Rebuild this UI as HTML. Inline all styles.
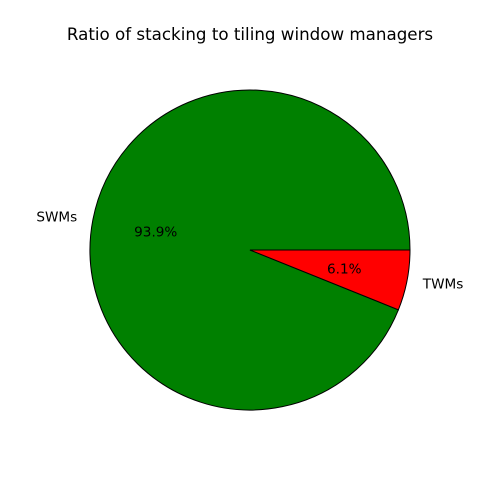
<!DOCTYPE html>
<html><head><meta charset="utf-8"><style>
body{margin:0;background:#fff;}
svg{display:block;font-family:"DejaVu Sans","Liberation Sans",sans-serif;}
</style></head><body>
<svg id="chart" width="500" height="500" viewBox="0 0 500 500">
<rect width="500" height="500" fill="#fff"/>
<text x="250" y="40" text-anchor="middle" font-size="16.7">Ratio of stacking to tiling window managers</text>
<g id="slices"></g>
</svg>
<script>
const labels = ["SWMs", "TWMs"];
const values = [93.9, 6.1];
const colors = ["green", "red"];
const cx = 250, cy = 250, r = 160;
const ns = "http://www.w3.org/2000/svg";
const g = document.getElementById('slices');
const total = values.reduce((a, b) => a + b, 0);
function pt(deg, rad) {
  const a = deg * Math.PI / 180;
  return [cx + rad * Math.cos(a), cy - rad * Math.sin(a)];
}
let start = 0;
values.forEach((v, i) => {
  const sweep = v / total * 360;
  const end = start + sweep;
  const [x1, y1] = pt(start, r);
  const [x2, y2] = pt(end, r);
  const large = sweep > 180 ? 1 : 0;
  const p = document.createElementNS(ns, 'path');
  p.setAttribute('d', `M${cx},${cy} L${x1},${y1} A${r},${r} 0 ${large} 0 ${x2},${y2} Z`);
  p.setAttribute('fill', colors[i]);
  p.setAttribute('stroke', '#000');
  p.setAttribute('stroke-width', '1');
  
  
  g.appendChild(p);
  const mid = start + sweep / 2;
  const [lx, ly] = pt(mid, r * 1.1);
  const t = document.createElementNS(ns, 'text');
  t.setAttribute('x', lx);
  t.setAttribute('y', ly + 5);
  t.setAttribute('font-size', '13.6');
  t.setAttribute('text-anchor', Math.cos(mid * Math.PI / 180) < 0 ? 'end' : 'start');
  t.textContent = labels[i];
  
  
  g.appendChild(t);
  const [px, py] = pt(mid, r * 0.6);
  const pt2 = document.createElementNS(ns, 'text');
  pt2.setAttribute('x', px);
  pt2.setAttribute('y', py + 5);
  pt2.setAttribute('font-size', '13.6');
  pt2.setAttribute('text-anchor', 'middle');
  pt2.textContent = (v / total * 100).toFixed(1) + '%';
  
  
  g.appendChild(pt2);
  start = end;
});
</script>
</body></html>
